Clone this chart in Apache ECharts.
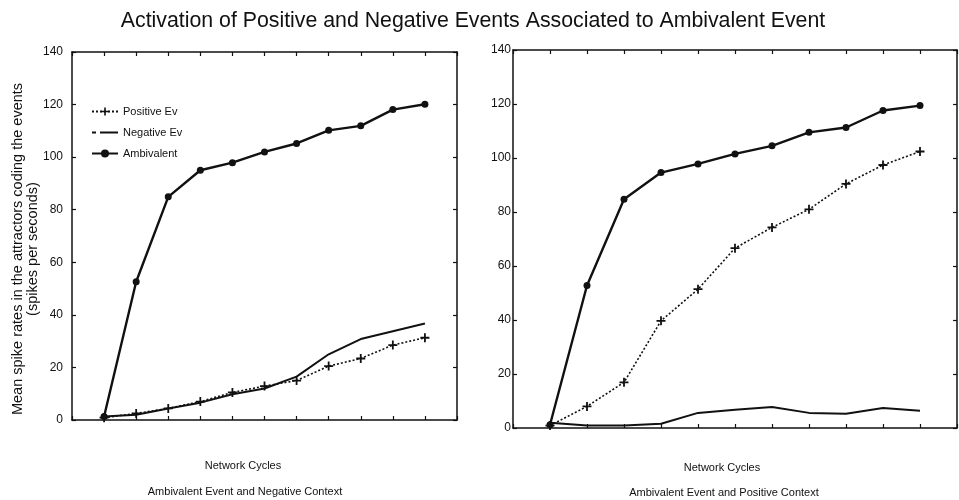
<!DOCTYPE html>
<html>
<head>
<meta charset="utf-8">
<script src="https://cdn.jsdelivr.net/npm/echarts@6/dist/echarts.min.js"></script>
<style>html,body{margin:0;padding:0;background:#fff;}#c{width:959px;height:500px;}</style>
</head>
<body>
<div id="c"></div>
<script>
// Network cycles (x positions of the points)
const cycles = [1, 2, 3, 4, 5, 6, 7, 8, 9, 10, 11];
const yTicks = [0, 20, 40, 60, 80, 100, 120, 140];
const seriesNames = ['Positive Event', 'Negative Event', 'Ambivalent'];
const legendLabels = ['Positive Ev', 'Negative Ev', 'Ambivalent'];

// Left panel: Ambivalent Event and Negative Context
const leftPositive   = [0.9, 2.5, 4.4, 7.0, 10.5, 12.9, 15.0, 20.5, 23.4, 28.5, 31.3];
const leftNegative   = [1.3, 2.0, 4.4, 6.6, 9.8, 12.0, 16.5, 25.0, 30.8, 33.8, 36.7];
const leftAmbivalent = [1.3, 52.6, 84.9, 95.0, 97.9, 102.0, 105.2, 110.2, 111.9, 118.1, 120.1];

// Right panel: Ambivalent Event and Positive Context
const rightPositive   = [0.9, 8.0, 16.9, 39.7, 51.4, 66.6, 74.3, 81.0, 90.4, 97.4, 102.4];
const rightNegative   = [1.9, 0.9, 0.9, 1.6, 5.6, 6.8, 7.8, 5.6, 5.3, 7.4, 6.4];
const rightAmbivalent = [1.2, 52.8, 84.7, 94.6, 97.8, 101.5, 104.5, 109.5, 111.3, 117.6, 119.4];

const pts = arr => arr.map((v, i) => [cycles[i], v]);
const plusPath = 'path://M4,0H6V4H10V6H6V10H4V6H0V4H4Z';
// legend icon for the plain line: short dash, gap, long dash (bbox 26x10)
const dashIcon = 'path://M0,0H0.05V0.05H0Z M25.95,9.95H26V10H25.95Z M0,4H4V6H0Z M8,4H26V6H8Z';
const ink = '#111';
const font = 'Liberation Sans, Arial, sans-serif';

function xAxes(gi) {
  const base = {
    type: 'value', min: 0, max: 12, interval: 1, gridIndex: gi,
    axisLabel: {show: false}, splitLine: {show: false},
    axisLine: {show: true, onZero: false, lineStyle: {color: ink, width: 1.5}},
    axisTick: {show: true, inside: true, length: 4, lineStyle: {color: ink, width: 1.2}}
  };
  return [Object.assign({}, base, {position: 'bottom'}), Object.assign({}, base, {position: 'top'})];
}
function yAxes(gi, margin) {
  const base = {
    type: 'value', min: 0, max: 140, interval: 20, gridIndex: gi,
    splitLine: {show: false},
    axisLine: {show: true, onZero: false, lineStyle: {color: ink, width: 1.5}},
    axisTick: {show: true, inside: true, length: 4, lineStyle: {color: ink, width: 1.2}}
  };
  const l = Object.assign({}, base, {position: 'left',
    axisLabel: {show: true, margin: margin, color: ink, fontSize: 12, fontFamily: font,
      formatter: v => yTicks.indexOf(v) >= 0 ? String(v) : ''}});
  const r = Object.assign({}, base, {position: 'right', axisLabel: {show: false}});
  return [l, r];
}

function seriesFor(gi, pos, neg, amb) {
  const xi = gi * 2, yi = gi * 2;
  return [
    {name: seriesNames[0], type: 'line', xAxisIndex: xi, yAxisIndex: yi, data: pts(pos),
     symbol: plusPath, symbolSize: 9, itemStyle: {color: ink},
     lineStyle: {color: ink, width: 1.6, type: [2, 2]}, z: 3},
    {name: seriesNames[1], type: 'line', xAxisIndex: xi, yAxisIndex: yi, data: pts(neg),
     symbol: 'none', itemStyle: {color: ink},
     lineStyle: {color: ink, width: 2}, z: 2},
    {name: seriesNames[2], type: 'line', xAxisIndex: xi, yAxisIndex: yi, data: pts(amb),
     symbol: 'circle', symbolSize: 7, itemStyle: {color: ink},
     lineStyle: {color: ink, width: 2.4}, z: 4}
  ];
}

const chart = echarts.init(document.getElementById('c'), null, {renderer: 'canvas'});
chart.setOption({
  backgroundColor: '#fff',
  animation: false,
  title: [
    {text: 'Activation of Positive and Negative Events Associated to Ambivalent Event',
     left: 468, top: 6, textAlign: 'center',
     textStyle: {color: ink, fontSize: 21.3, fontWeight: 'normal', fontFamily: font}},
    {text: 'Network Cycles', left: 238, top: 455, textAlign: 'center',
     textStyle: {color: ink, fontSize: 11, fontWeight: 'normal', fontFamily: font}},
    {text: 'Ambivalent Event and Negative Context', left: 240, top: 481, textAlign: 'center',
     textStyle: {color: ink, fontSize: 11, fontWeight: 'normal', fontFamily: font}},
    {text: 'Network Cycles', left: 717, top: 457, textAlign: 'center',
     textStyle: {color: ink, fontSize: 11, fontWeight: 'normal', fontFamily: font}},
    {text: 'Ambivalent Event and Positive Context', left: 719, top: 482, textAlign: 'center',
     textStyle: {color: ink, fontSize: 11, fontWeight: 'normal', fontFamily: font}}
  ],
  graphic: [{
    type: 'text', x: 25, y: 249, rotation: Math.PI / 2,
    style: {text: 'Mean spike rates in the attractors coding the events\n(spikes per seconds)',
      fill: ink, font: '14.5px ' + font, textAlign: 'center', textVerticalAlign: 'middle',
      lineHeight: 15}
  }],
  legend: {
    show: true, orient: 'vertical', left: 86, top: 101,
    itemWidth: 26, itemHeight: 10, itemGap: 10,
    data: [
      {name: seriesNames[0]},
      {name: seriesNames[1], icon: dashIcon},
      {name: seriesNames[2]}
    ],
    formatter: n => legendLabels[seriesNames.indexOf(n)],
    textStyle: {color: ink, fontSize: 11, fontFamily: font}
  },
  grid: [
    {left: 72, top: 52, width: 385, height: 368},
    {left: 513, top: 50, width: 444, height: 378}
  ],
  xAxis: xAxes(0).concat(xAxes(1)),
  yAxis: yAxes(0, 9).concat(yAxes(1, 2)),
  series: seriesFor(0, leftPositive, leftNegative, leftAmbivalent)
    .concat(seriesFor(1, rightPositive, rightNegative, rightAmbivalent))
});
</script>
</body>
</html>
